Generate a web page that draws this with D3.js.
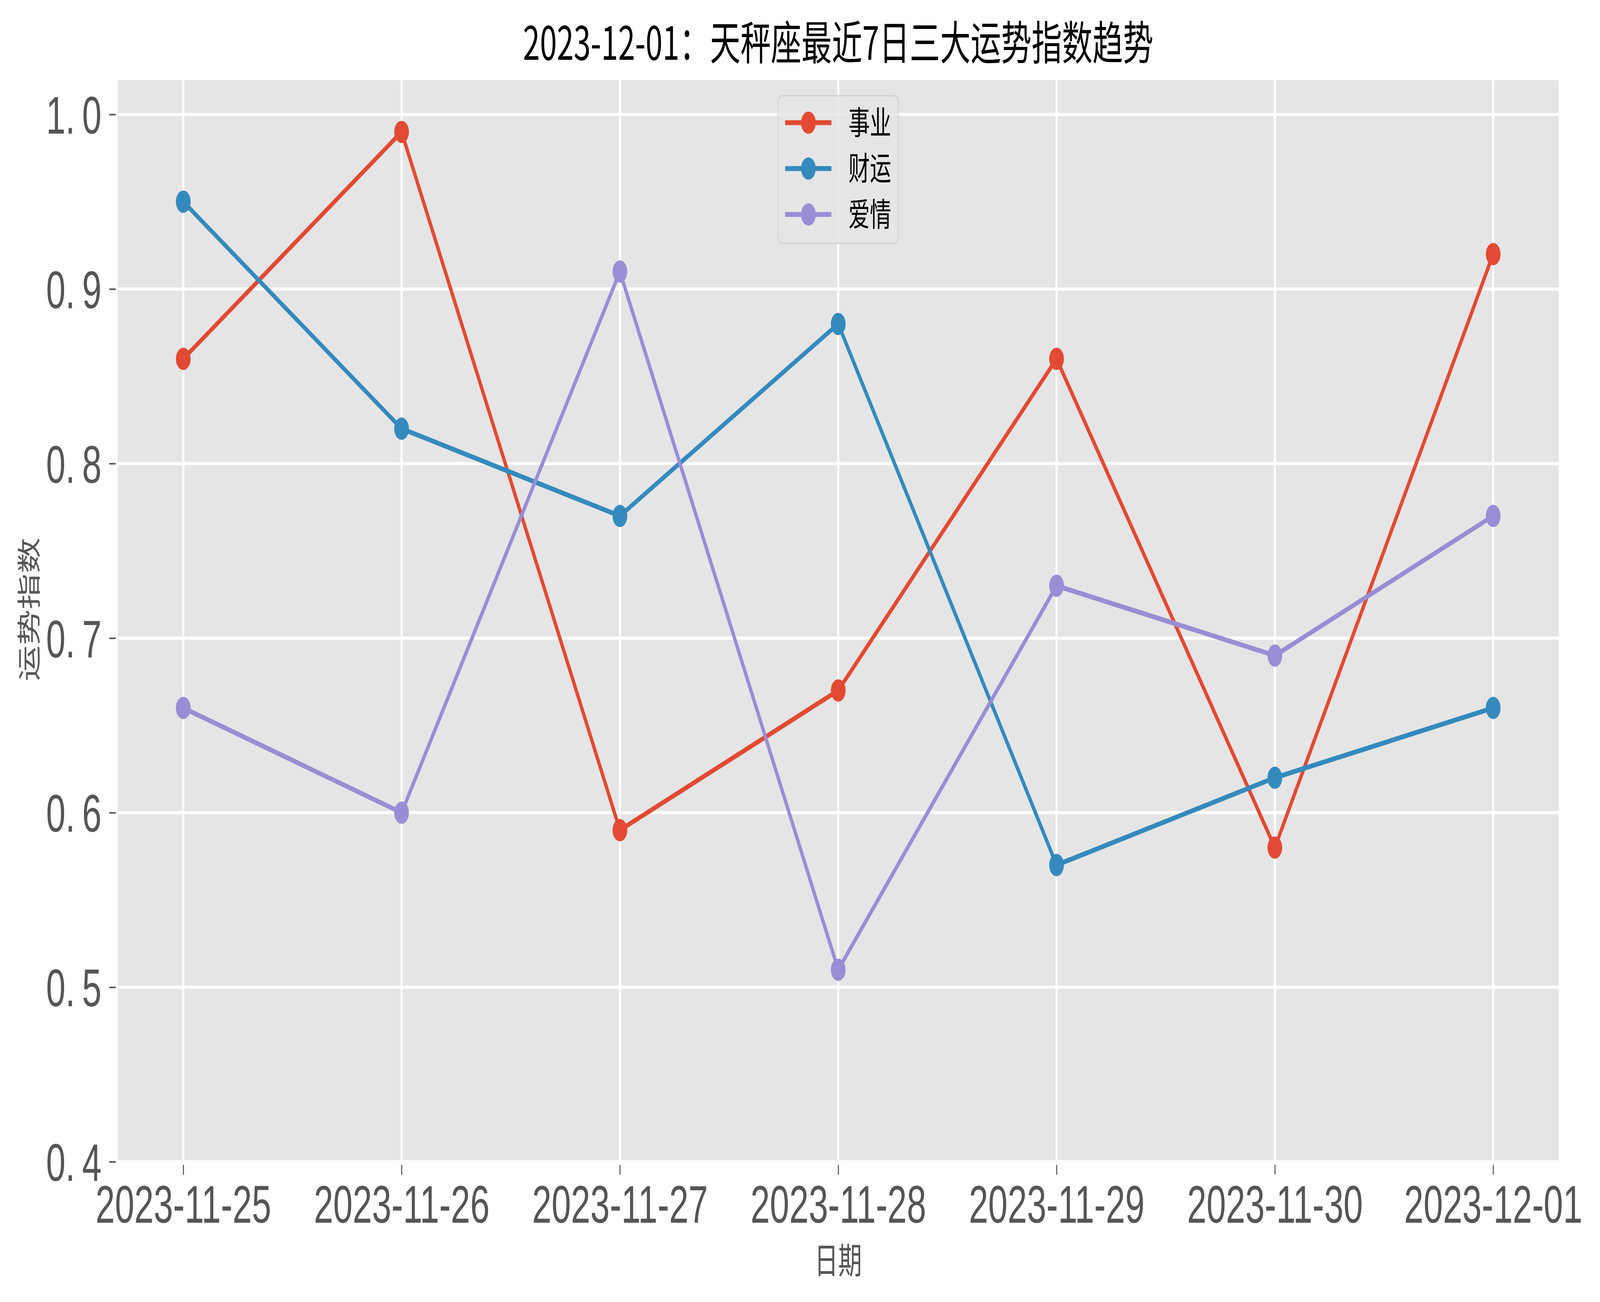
<!DOCTYPE html>
<html>
<head>
<meta charset="utf-8">
<script src="https://cdn.jsdelivr.net/npm/d3@7"></script>
<style>
  html, body { margin: 0; padding: 0; width: 100%; height: 100%; overflow: hidden; background: #fff; }
  #chart { width: 100vw; height: 100vh; }
  #chart svg { display: block; width: 100%; height: 100%; }
</style>
</head>
<body>
<div id="chart"></div>
<script>
// data
const dates = ["2023-11-25", "2023-11-26", "2023-11-27", "2023-11-28", "2023-11-29", "2023-11-30", "2023-12-01"];
const career = [0.86, 0.99, 0.59, 0.67, 0.86, 0.58, 0.92];
const wealth = [0.95, 0.82, 0.77, 0.88, 0.57, 0.62, 0.66];
const love = [0.66, 0.60, 0.91, 0.51, 0.73, 0.69, 0.77];
const seriesNames = ["事业", "财运", "爱情"];
const yTicks = [0.4, 0.5, 0.6, 0.7, 0.8, 0.9, 1.0];
const titleText = "2023-12-01：天秤座最近7日三大运势指数趋势";

function drawChart() {
    var W = 6195, H = 3333;
    var mLeft = 456, mRight = 6035, mTop = 205, mBottom = 2974;
    var colors = ["#E24A33", "#348ABD", "#988ED5"];
    var series = [career, wealth, love];
    var tickFont = "'Liberation Sans', Arial, sans-serif";
    var cjkFont = "'Noto Sans CJK SC', sans-serif";

    // the page is drawn in a fixed 6195x3333 coordinate system, stretched to the window
    var svg = d3.select("#chart").append("svg")
        .attr("viewBox", "0 0 " + W + " " + H)
        .attr("preserveAspectRatio", "none");

    var x = d3.scaleLinear().domain([-0.3, dates.length - 1 + 0.3]).range([mLeft, mRight]);
    var y = d3.scaleLinear().domain([0.4, 0.99 * 1.03]).range([mBottom, mTop]);

    // plot background
    svg.append("rect")
        .attr("x", mLeft).attr("y", mTop)
        .attr("width", mRight - mLeft).attr("height", mBottom - mTop)
        .attr("fill", "#E5E5E5");

    // grid
    var grid = svg.append("g");
    grid.selectAll(".gy").data(yTicks).enter().append("line")
        .attr("x1", mLeft).attr("x2", mRight)
        .attr("y1", d => y(d)).attr("y2", d => y(d))
        .attr("stroke", "#fff").attr("stroke-width", 8);
    grid.selectAll(".gx").data(dates).enter().append("line")
        .attr("x1", (d, i) => x(i)).attr("x2", (d, i) => x(i))
        .attr("y1", mTop).attr("y2", mBottom)
        .attr("stroke", "#fff").attr("stroke-width", 8);

    // axes
    var xAxis = d3.axisBottom(x)
        .tickValues(d3.range(dates.length))
        .tickFormat(i => dates[i])
        .tickSizeInner(25).tickSizeOuter(0).tickPadding(27);
    var gx = svg.append("g")
        .attr("transform", "translate(0," + (mBottom + 8) + ")")
        .call(xAxis);
    gx.select(".domain").remove();
    gx.selectAll("line").attr("stroke", "#555").attr("stroke-width", 4);
    gx.selectAll("text")
        .attr("fill", "#555")
        .style("font-family", tickFont)
        .style("font-size", "135px");

    var yAxis = d3.axisLeft(y)
        .tickValues(yTicks)
        .tickFormat(d3.format(".1f"))
        .tickSizeInner(25).tickSizeOuter(0).tickPadding(30);
    var gy = svg.append("g")
        .attr("transform", "translate(" + (mLeft - 8) + ",0)")
        .call(yAxis);
    gy.select(".domain").remove();
    gy.selectAll("line").attr("stroke", "#555").attr("stroke-width", 4);
    gy.selectAll("text")
        .attr("fill", "#555")
        .attr("dy", "0.36em")
        .style("font-family", tickFont)
        .style("font-size", "135px")
        .each(function (d) {
            var parts = d3.format(".1f")(d).split(".");
            var t = d3.select(this).text(null);
            t.append("tspan").text(parts[0] + ".");
            t.append("tspan").attr("dx", "0.2em").text(parts[1]);
        });

    // lines and markers
    var line = d3.line()
        .x((d, i) => x(i))
        .y(d => y(d));

    series.forEach(function (vals, k) {
        var g = svg.append("g");
        g.append("path")
            .attr("d", line(vals))
            .attr("fill", "none")
            .attr("stroke", colors[k])
            .attr("stroke-width", 12.5)
            .attr("stroke-linejoin", "round");
        g.selectAll("circle").data(vals).enter().append("circle")
            .attr("cx", (d, i) => x(i))
            .attr("cy", d => y(d))
            .attr("r", 28.5)
            .attr("fill", colors[k]);
    });

    // legend
    var lw = 467, lh = 378;
    var lx = (mLeft + mRight) / 2 - lw / 2, ly = mTop + 40;
    var legend = svg.append("g");
    legend.append("rect")
        .attr("x", lx).attr("y", ly)
        .attr("width", lw).attr("height", lh)
        .attr("rx", 16)
        .attr("fill", "#E5E5E5").attr("fill-opacity", 0.8)
        .attr("stroke", "#cfcfcf").attr("stroke-width", 3);
    seriesNames.forEach(function (name, k) {
        var cy = ly + 69 + k * 117.5;
        legend.append("line")
            .attr("x1", lx + 28).attr("x2", lx + 207)
            .attr("y1", cy).attr("y2", cy)
            .attr("stroke", colors[k]).attr("stroke-width", 12.5);
        legend.append("circle")
            .attr("cx", lx + 118).attr("cy", cy).attr("r", 28.5)
            .attr("fill", colors[k]);
        legend.append("text")
            .attr("x", lx + 273).attr("y", cy)
            .attr("dy", "0.36em")
            .style("font-family", cjkFont)
            .style("font-size", "83px")
            .attr("fill", "#000")
            .text(name);
    });

    // title and axis labels
    svg.append("text")
        .attr("x", (mLeft + mRight) / 2).attr("y", 153)
        .attr("text-anchor", "middle")
        .style("font-family", cjkFont)
        .style("font-size", "118px")
        .attr("fill", "#000")
        .text(titleText);

    svg.append("text")
        .attr("x", (mLeft + mRight) / 2).attr("y", 3260)
        .attr("text-anchor", "middle")
        .style("font-family", cjkFont)
        .style("font-size", "92px")
        .attr("fill", "#555")
        .text("日期");

    svg.append("text")
        .attr("transform", "translate(146,1560) rotate(-90)")
        .attr("text-anchor", "middle")
        .style("font-family", cjkFont)
        .style("font-size", "92px")
        .attr("fill", "#555")
        .text("运势指数");
}

drawChart();
</script>
</body>
</html>
